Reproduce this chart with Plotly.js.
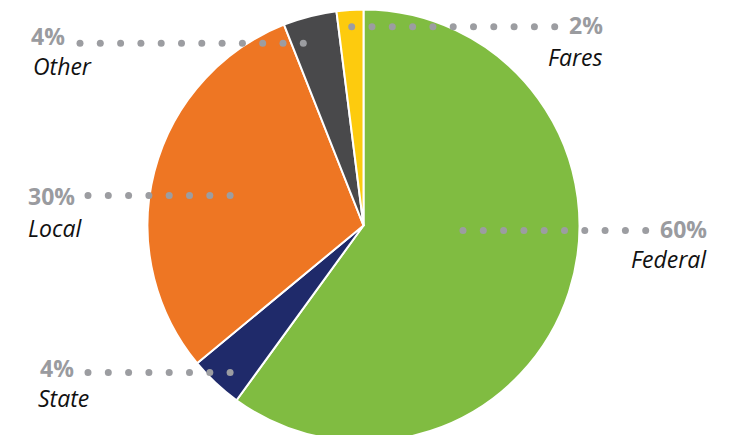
<!DOCTYPE html>
<html>
<head>
<meta charset="utf-8">
<script src="https://cdn.plot.ly/plotly-3.0.1.min.js"></script>
<style>
html,body{margin:0;padding:0;overflow:hidden;background:#fff;}
#chart{width:745px;height:452px;}
</style>
</head>
<body>
<div id="chart"></div>
<script>
// ---- data ----
const categories = ['Federal', 'State', 'Local', 'Other', 'Fares'];
const values = [60, 4, 30, 4, 2];
const colors = ['#80bc41', '#1f2a6a', '#ee7623', '#49494b', '#fdcb0e'];

// ---- layout helpers ----
const W = 745, H = 452;
const px = x => x / W;
const py = y => 1 - y / H;

// pie geometry (pixels)
const cx = 363.5, cy = 225.5, R = 216;

// label placements (pixels): pct text pos, name pos, dots
const place = {
  Federal: {pct: [709, 229, 'right'], name: [709, 259, 'right'], dots: [463, 230.5, 10]},
  State:   {pct: [38, 368, 'left'],   name: [36, 398, 'left'],   dots: [88, 372.5, 8]},
  Local:   {pct: [26, 196, 'left'],   name: [26, 228, 'left'],   dots: [88, 195.5, 8]},
  Other:   {pct: [29, 36, 'left'],    name: [31, 66, 'left'],    dots: [80, 43.3, 12]},
  Fares:   {pct: [605, 25, 'right'],  name: [605, 57, 'right'],  dots: [351.7, 26.7, 11]}
};
const dotGap = 20.3, dotD = 7;
const grayTxt = '#9a9b9f', dotCol = '#9c9da1';

const annotations = [];
const shapes = [];
categories.forEach((c, i) => {
  const p = place[c];
  annotations.push({
    xref: 'paper', yref: 'paper', x: px(p.pct[0]), y: py(p.pct[1]),
    xanchor: p.pct[2], yanchor: 'middle', showarrow: false,
    text: '<b>' + values[i] + '%</b>',
    font: {family: 'Open Sans, sans-serif', size: 23, color: grayTxt}
  });
  annotations.push({
    xref: 'paper', yref: 'paper', x: px(p.name[0]), y: py(p.name[1]),
    xanchor: p.name[2], yanchor: 'middle', showarrow: false,
    text: '<i>' + c + '</i>',
    font: {family: 'Open Sans, sans-serif', size: 23, color: '#111111'}
  });
  for (let k = 0; k < p.dots[2]; k++) {
    const xx = px(p.dots[0] + k * dotGap), yy = py(p.dots[1]);
    shapes.push({
      type: 'circle', layer: 'above',
      xref: 'paper', yref: 'paper',
      xsizemode: 'pixel', ysizemode: 'pixel',
      xanchor: xx, yanchor: yy,
      x0: -dotD / 2, x1: dotD / 2, y0: -dotD / 2, y1: dotD / 2,
      fillcolor: dotCol, line: {width: 0}
    });
  }
});

const trace = {
  type: 'pie',
  labels: categories,
  values: values,
  sort: false,
  direction: 'clockwise',
  rotation: 0,
  marker: {colors: colors, line: {color: '#ffffff', width: 2}},
  textinfo: 'none',
  hoverinfo: 'skip',
  showlegend: false,
  domain: {x: [px(cx - R), px(cx + R)], y: [py(cy + R), py(cy - R)]}
};

const layout = {
  width: W, height: H,
  margin: {l: 0, r: 0, t: 0, b: 0, pad: 0},
  paper_bgcolor: '#ffffff',
  plot_bgcolor: '#ffffff',
  showlegend: false,
  annotations: annotations,
  shapes: shapes
};

Plotly.newPlot('chart', [trace], layout, {staticPlot: true, displayModeBar: false});
</script>
</body>
</html>
